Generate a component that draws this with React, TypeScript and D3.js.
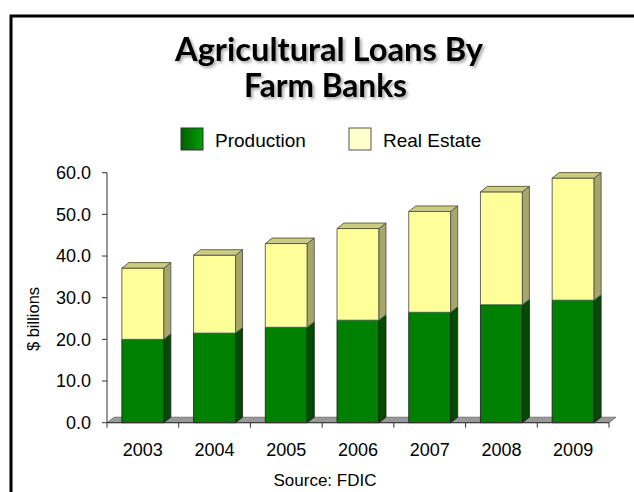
import React from "react";
import * as d3 from "d3";

const years = ["2003", "2004", "2005", "2006", "2007", "2008", "2009"];
const production = [20.0, 21.5, 22.9, 24.6, 26.5, 28.3, 29.4];
const realEstate = [17.1, 18.7, 20.1, 22.0, 24.2, 27.1, 29.3];
const yTicks = [0, 10, 20, 30, 40, 50, 60];
const titleLines = ["Agricultural Loans By", "Farm Banks"];
const seriesNames = ["Production", "Real Estate"];

const W = 634;
const H = 492;
const DX = 7;
const DY = -5.5;
const FONT = "'Liberation Sans', Arial, sans-serif";

export default function App() {
  const x = d3
    .scaleBand<string>()
    .domain(years)
    .range([107, 609])
    .paddingInner(0.415)
    .paddingOuter(0.2075);
  const y = d3.scaleLinear().domain([0, 60]).range([422.7, 172.7]);
  const step = x.step();
  const bw = x.bandwidth();
  const x0Axis = x.range()[0];
  const x1Axis = x.range()[1];
  const yBase = y(0);

  const poly = (pts: [number, number][]) => pts.map((p) => p.join(",")).join(" ");

  return (
    <svg
      width={W}
      height={H}
      style={{ position: "absolute", left: 0, top: 0, background: "#fff" }}
    >
      <defs>
        <filter id="tshadow" x="-10%" y="-20%" width="120%" height="150%">
          <feDropShadow dx="2" dy="2" stdDeviation="1.5" floodColor="#000" floodOpacity="0.35" />
        </filter>
        <linearGradient id="lgGreen" x1="0" x2="1" y1="0" y2="0">
          <stop offset="0" stopColor="#005f00" />
          <stop offset="1" stopColor="#00a000" />
        </linearGradient>
      </defs>
      <rect x={0} y={0} width={W} height={H} fill="#fff" />
      {/* outer border */}
      <rect x={11} y={16} width={W + 20} height={H + 20} fill="none" stroke="#000" strokeWidth={3} />

      {/* title */}
      <g filter="url(#tshadow)" fontFamily="Lato, 'Open Sans', sans-serif" fontWeight={700} fill="#000">
        <text x={175} y={60.5} fontSize={32} textLength={308} lengthAdjust="spacingAndGlyphs">
          {titleLines[0]}
        </text>
        <text x={244} y={97} fontSize={32} textLength={163} lengthAdjust="spacingAndGlyphs">
          {titleLines[1]}
        </text>
      </g>

      {/* legend */}
      <rect x={181} y={128} width={22} height={22} fill="url(#lgGreen)" stroke="#333" strokeWidth={1} />
      <text x={215} y={146.5} fontSize={19} fontFamily={FONT} fill="#000">
        {seriesNames[0]}
      </text>
      <rect x={349} y={128} width={22} height={22} fill="#ffffcc" stroke="#555" strokeWidth={1} />
      <text x={383} y={146.5} fontSize={19} fontFamily={FONT} fill="#000">
        {seriesNames[1]}
      </text>

      {/* floor */}
      <polygon
        points={poly([
          [x0Axis, yBase],
          [x0Axis + DX, yBase + DY],
          [x1Axis + DX, yBase + DY],
          [x1Axis, yBase],
        ])}
        fill="#999"
        stroke="#666"
        strokeWidth={0.8}
      />

      {/* bars */}
      {years.map((yr, i) => {
        const xa = x(yr) as number;
        const xb = xa + bw;
        const yp = y(production[i]);
        const yt = y(production[i] + realEstate[i]);
        return (
          <g key={yr} stroke="#222" strokeWidth={0.9} strokeLinejoin="round">
            <rect x={xa} y={yp} width={bw} height={yBase - yp} fill="#008000" />
            <polygon
              points={poly([
                [xb, yBase],
                [xb + DX, yBase + DY],
                [xb + DX, yp + DY],
                [xb, yp],
              ])}
              fill="#004d00"
            />
            <rect x={xa} y={yt} width={bw} height={yp - yt} fill="#ffff99" stroke="#555" />
            <polygon
              points={poly([
                [xb, yp],
                [xb + DX, yp + DY],
                [xb + DX, yt + DY],
                [xb, yt],
              ])}
              fill="#a6a666"
              stroke="#555"
            />
            <polygon
              points={poly([
                [xa, yt],
                [xa + DX, yt + DY],
                [xb + DX, yt + DY],
                [xb, yt],
              ])}
              fill="#cccc80"
              stroke="#555"
            />
          </g>
        );
      })}

      {/* y axis */}
      <line x1={x0Axis} x2={x0Axis} y1={y(60)} y2={yBase} stroke="#333" strokeWidth={1} />
      {yTicks.map((t) => (
        <g key={t}>
          <line x1={x0Axis - 5} x2={x0Axis} y1={y(t)} y2={y(t)} stroke="#333" strokeWidth={1} />
          <text
            x={91}
            y={y(t)}
            dy="0.35em"
            textAnchor="end"
            fontSize={18}
            fontFamily={FONT}
            fill="#000"
          >
            {t.toFixed(1)}
          </text>
        </g>
      ))}

      {/* x axis */}
      <line x1={x0Axis} x2={x1Axis} y1={yBase} y2={yBase} stroke="#333" strokeWidth={1} />
      {d3.range(years.length + 1).map((i) => (
        <line
          key={i}
          x1={x0Axis + i * step}
          x2={x0Axis + i * step}
          y1={yBase}
          y2={yBase + 5}
          stroke="#333"
          strokeWidth={1}
        />
      ))}
      {years.map((yr) => (
        <text
          key={yr}
          x={(x(yr) as number) + bw / 2}
          y={456}
          textAnchor="middle"
          fontSize={18}
          fontFamily={FONT}
          fill="#000"
        >
          {yr}
        </text>
      ))}

      {/* y label */}
      <text
        transform="translate(39,319) rotate(-90)"
        textAnchor="middle"
        fontSize={16.5}
        fontFamily={FONT}
        fill="#000"
      >
        $ billions
      </text>

      {/* source */}
      <text x={325} y={486} textAnchor="middle" fontSize={17} fontFamily={FONT} fill="#000">
        Source: FDIC
      </text>
    </svg>
  );
}
